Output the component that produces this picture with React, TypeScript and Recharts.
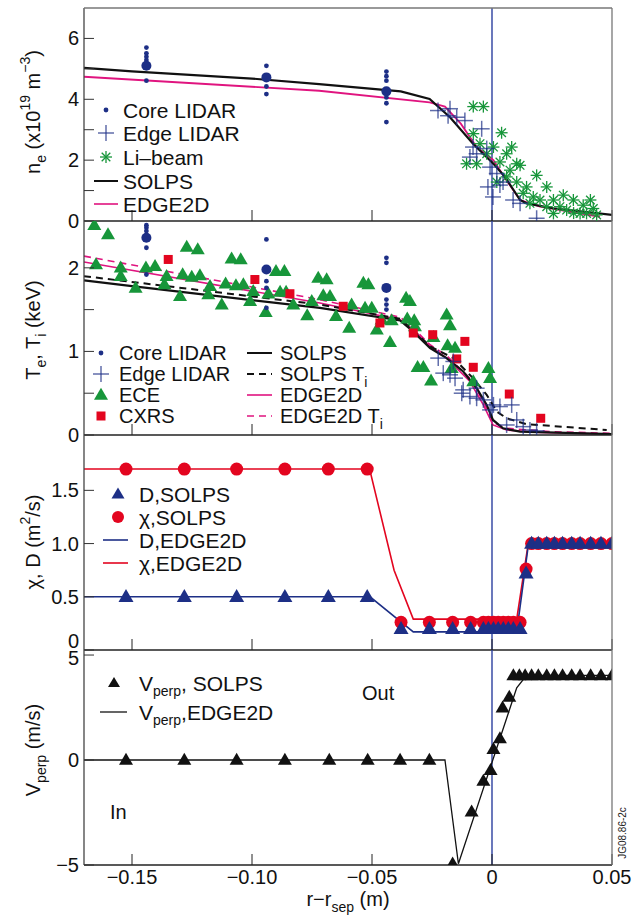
import React from 'react';
import { ComposedChart, Line, Scatter, XAxis, YAxis, ReferenceLine } from 'recharts';

type P = [number, number];

// page / plot geometry
const W = 633;
const H = 918;
const PLOT_L = 84;
const PLOT_R = 612;
const Y_AXIS_W = 40;
const X_AXIS_H = 30;
const FONT = '"Liberation Sans", Arial, Helvetica, sans-serif';

const NAVY = '#1d2f86';
const SEP_BLUE = '#2c3f9f';
const GREEN = '#17963a';
const RED = '#e3051f';
const PINK = '#e0147f';
const BLACK = '#111111';

const X_DOMAIN = [-0.17, 0.05];
const X_TICKS = [-0.15, -0.1, -0.05, 0, 0.05];

// ---- panel 1: density ----
const NE_SOLPS: P[] = [[-0.17, 5.03], [-0.15, 4.92], [-0.1, 4.68], [-0.072, 4.5], [-0.038, 4.26], [-0.026, 4.01], [-0.0175, 3.41], [-0.0079, 2.54], [0.0006, 1.88], [0.0054, 1.45], [0.0117, 0.69], [0.0144, 0.58], [0.0254, 0.42], [0.05, 0.2]];
const NE_EDGE2D: P[] = [[-0.17, 4.74], [-0.072, 4.28], [-0.026, 3.9], [-0.0196, 3.76], [-0.013, 3.2], [-0.0064, 2.43], [0.0006, 2.0], [0.006, 1.34], [0.0117, 0.69], [0.02, 0.47], [0.045, 0.14]];
const NE_CORE_LIDAR: P[] = [[-0.144, 5.7], [-0.144, 5.51], [-0.144, 5.4], [-0.144, 5.29], [-0.144, 4.61], [-0.094, 5.1], [-0.094, 4.42], [-0.094, 4.17], [-0.044, 4.91], [-0.044, 4.76], [-0.044, 4.61], [-0.044, 4.06], [-0.044, 3.87], [-0.044, 3.25]];
const NE_CORE_MEAN: P[] = [[-0.144, 5.1], [-0.094, 4.72], [-0.044, 4.26]];
const NE_EDGE_LIDAR: P[] = [[-0.0225, 3.63], [-0.0183, 3.46], [-0.0175, 3.69], [-0.0147, 3.41], [-0.0113, 3.3], [-0.0092, 2.1], [-0.0079, 2.43], [-0.0064, 2.21], [-0.0043, 3.03], [-0.0022, 2.38], [-0.0017, 1.12], [-0.0008, 1.77], [0.0004, 0.79], [0.002, 1.56], [0.0033, 1.18], [0.0046, 1.28], [0.0088, 0.69], [0.0117, 0.58], [0.0186, 0.09]];
const NE_LI_BEAM: P[] = [[-0.0078, 3.76], [-0.0036, 3.76], [0.004, 2.9], [0.0082, 2.43], [0.0061, 2.21], [-0.0078, 2.87], [-0.0106, 1.88], [-0.0064, 1.88], [-0.005, 2.54], [-0.0022, 2.21], [0.0033, 1.94], [0.0117, 1.83], [0.0075, 1.67], [0.0186, 1.5], [0.0228, 1.12], [0.0144, 1.12], [0.0103, 1.28], [0.0172, 0.79], [0.0256, 0.69], [0.0297, 0.85], [0.0339, 0.69], [0.0283, 0.47], [0.038, 0.52], [0.0422, 0.41], [0.0436, 0.2], [0.0367, 0.25], [0.0228, 0.47], [0.02, 0.69], [0.013, 0.91], [0.0061, 1.45], [0.002, 1.28], [0.0006, 2.43], [0.0103, 1.88], [0.0394, 0.25], [0.0311, 0.36], [0.0256, 0.25], [0.0158, 0.58], [0.034, 0.26], [0.041, 0.69]];

// ---- panel 2: temperatures ----
const TE_SOLPS: P[] = [[-0.17, 1.85], [-0.15, 1.78], [-0.0717, 1.52], [-0.0383, 1.37], [-0.0329, 1.24], [-0.0258, 1.04], [-0.0189, 0.92], [-0.012, 0.76], [-0.0064, 0.56], [-0.0022, 0.36], [0.0004, 0.18], [0.0046, 0.08], [0.0117, 0.04], [0.05, 0.01]];
const TI_SOLPS: P[] = [[-0.17, 1.9], [-0.0717, 1.56], [-0.0383, 1.39], [-0.0329, 1.26], [-0.0258, 1.06], [-0.0161, 0.92], [-0.0079, 0.68], [-0.0022, 0.48], [0.002, 0.28], [0.0061, 0.2], [0.0144, 0.13], [0.0478, 0.06]];
const TE_EDGE2D: P[] = [[-0.17, 2.07], [-0.0717, 1.58], [-0.0383, 1.38], [-0.0329, 1.26], [-0.0258, 1.06], [-0.0189, 0.92], [-0.0092, 0.64], [-0.0036, 0.36], [0.0004, 0.12], [0.0061, 0.06], [0.02, 0.03], [0.05, 0.01]];
const TI_EDGE2D: P[] = [[-0.17, 2.14], [-0.0717, 1.62], [-0.0383, 1.41], [-0.0329, 1.28], [-0.0258, 1.08], [-0.0189, 0.95], [-0.0092, 0.68], [-0.0036, 0.4], [0.0004, 0.15], [0.0061, 0.08], [0.025, 0.04], [0.05, 0.02]];
const TE_CORE_LIDAR: P[] = [[-0.144, 2.51], [-0.144, 2.48], [-0.144, 2.44], [-0.144, 2.24], [-0.144, 1.92], [-0.094, 2.34], [-0.094, 1.84], [-0.094, 1.76], [-0.094, 1.52], [-0.044, 2.12], [-0.044, 2.06], [-0.044, 1.62], [-0.044, 1.56], [-0.044, 1.5]];
const TE_CORE_MEAN: P[] = [[-0.144, 2.36], [-0.094, 1.98], [-0.044, 1.76]];
const TE_EDGE_LIDAR: P[] = [[-0.0224, 0.92], [-0.0203, 0.74], [-0.0175, 0.72], [-0.0161, 0.88], [-0.0154, 0.68], [-0.0126, 0.5], [-0.012, 0.54], [-0.0092, 0.46], [-0.0064, 0.56], [-0.0064, 0.44], [-0.0036, 0.42], [-0.0008, 0.3], [0.0006, 0.36], [0.0033, 0.34], [0.0061, 0.12], [0.0082, 0.36], [0.0103, 0.18], [0.013, 0.1], [0.0158, 0.06], [0.0186, 0.05]];
const TE_ECE: P[] = [[-0.1657, 2.51], [-0.16, 2.4], [-0.165, 2.04], [-0.1547, 1.9], [-0.1547, 2.0], [-0.1442, 2.0], [-0.1404, 2.02], [-0.1485, 1.76], [-0.1365, 1.8], [-0.1356, 1.9], [-0.13, 1.66], [-0.1289, 1.92], [-0.1272, 2.25], [-0.1226, 2.22], [-0.1251, 1.89], [-0.1217, 1.91], [-0.1182, 1.68], [-0.1175, 1.78], [-0.1126, 1.56], [-0.111, 1.81], [-0.1085, 2.11], [-0.1047, 2.1], [-0.1067, 1.79], [-0.1036, 1.8], [-0.1008, 1.6], [-0.0995, 1.72], [-0.0943, 1.47], [-0.0932, 1.69], [-0.09, 1.96], [-0.0865, 1.96], [-0.0883, 1.71], [-0.0858, 1.71], [-0.0828, 1.56], [-0.077, 1.43], [-0.0751, 1.6], [-0.0724, 1.88], [-0.0689, 1.86], [-0.0703, 1.67], [-0.0675, 1.66], [-0.065, 1.42], [-0.0585, 1.56], [-0.0529, 1.52], [-0.0501, 1.52], [-0.0595, 1.28], [-0.0536, 1.82], [-0.0515, 1.8], [-0.048, 1.26], [-0.046, 1.38], [-0.0418, 1.37], [-0.0425, 1.11], [-0.0358, 1.64], [-0.0342, 1.6], [-0.0353, 1.39], [-0.0324, 1.37], [-0.0321, 1.3], [-0.0189, 1.44], [-0.0175, 1.31], [-0.0244, 1.17], [-0.0185, 1.07], [-0.0154, 1.04], [-0.031, 0.81], [-0.0286, 0.81], [-0.0254, 0.65], [-0.0168, 0.8], [-0.0078, 0.64], [-0.0015, 0.8], [-0.0008, 0.68]];
const TI_CXRS: P[] = [[-0.1349, 2.1], [-0.0988, 1.86], [-0.0842, 1.69], [-0.062, 1.54], [-0.0467, 1.34], [-0.0328, 1.22], [-0.0247, 1.2], [-0.0147, 0.91], [-0.0113, 1.12], [-0.0078, 0.81], [0.0072, 0.49], [0.0203, 0.2]];

// ---- panel 3: transport coefficients ----
const CHI_SOLPS: P[] = [[-0.1525, 1.7], [-0.1282, 1.7], [-0.1064, 1.7], [-0.0863, 1.7], [-0.0682, 1.7], [-0.052, 1.7], [-0.0379, 0.26], [-0.0261, 0.26], [-0.0164, 0.26], [-0.0089, 0.26], [-0.0036, 0.26], [-0.0015, 0.26], [0.0006, 0.26], [0.0026, 0.26], [0.0047, 0.26], [0.0068, 0.26], [0.0089, 0.26], [0.0117, 0.26], [0.0142, 0.76], [0.0165, 1], [0.0193, 1], [0.0228, 1], [0.026, 1], [0.0294, 1], [0.0332, 1], [0.0367, 1], [0.0411, 1], [0.0454, 1], [0.05, 1]];
const D_SOLPS: P[] = [[-0.1525, 0.5], [-0.1282, 0.5], [-0.1064, 0.5], [-0.0863, 0.5], [-0.0682, 0.5], [-0.052, 0.5], [-0.0379, 0.2], [-0.0261, 0.2], [-0.0164, 0.2], [-0.0089, 0.2], [-0.0036, 0.2], [-0.0015, 0.2], [0.0006, 0.2], [0.0026, 0.2], [0.0047, 0.2], [0.0068, 0.2], [0.0089, 0.2], [0.0117, 0.2], [0.0142, 0.72], [0.0165, 1], [0.0193, 1], [0.0228, 1], [0.026, 1], [0.0294, 1], [0.0332, 1], [0.0367, 1], [0.0411, 1], [0.0454, 1], [0.05, 1]];
const CHI_EDGE2D: P[] = [[-0.17, 1.7], [-0.051, 1.7], [-0.0408, 0.75], [-0.0328, 0.29], [0.0103, 0.29], [0.0151, 1.0], [0.05, 1.0]];
const D_EDGE2D: P[] = [[-0.17, 0.5], [-0.0508, 0.5], [-0.0328, 0.17], [0.0103, 0.17], [0.0151, 0.98], [0.05, 0.98]];

// ---- panel 4: pinch velocity ----
const V_SOLPS: P[] = [[-0.1525, 0], [-0.1282, 0], [-0.1064, 0], [-0.0863, 0], [-0.0678, 0], [-0.0518, 0], [-0.0383, 0], [-0.0261, 0], [-0.0164, -4.94], [-0.0085, -2.46], [-0.0036, -1.0], [-0.0006, -0.49], [0.0006, 0.51], [0.0033, 1.03], [0.0044, 2.49], [0.0072, 3.0], [0.0089, 4.03], [0.0114, 4.03], [0.0138, 4.03], [0.0165, 4.03], [0.0193, 4.03], [0.0228, 4.03], [0.026, 4.03], [0.0294, 4.03], [0.0332, 4.03], [0.0367, 4.03], [0.0411, 4.03], [0.0454, 4.03], [0.05, 4.03]];
const V_EDGE2D: P[] = [[-0.17, 0], [-0.0196, 0], [-0.014, -4.94], [0.0103, 3.44], [0.0144, 4.03], [0.05, 4.03]];

const pts = (a: P[]) => a.map(([x, y]) => ({ x, y }));
const minus = (v: string) => v.replace('-', '\u2212');

// ---- marker shapes ----
const dot = (r: number, color: string) => (p: any) => <circle cx={p.cx} cy={p.cy} r={r} fill={color} />;
const cross = (p: any) => (
  <g stroke={NAVY} strokeWidth={1.5} strokeOpacity={0.7}>
    <line x1={p.cx - 8} x2={p.cx + 8} y1={p.cy} y2={p.cy} />
    <line x1={p.cx} x2={p.cx} y1={p.cy - 8} y2={p.cy + 8} />
  </g>
);
const star = (p: any) => (
  <g stroke={GREEN} strokeWidth={1.3}>
    <line x1={p.cx - 6} x2={p.cx + 6} y1={p.cy} y2={p.cy} />
    <line x1={p.cx} x2={p.cx} y1={p.cy - 6} y2={p.cy + 6} />
    <line x1={p.cx - 4.3} x2={p.cx + 4.3} y1={p.cy - 4.3} y2={p.cy + 4.3} />
    <line x1={p.cx - 4.3} x2={p.cx + 4.3} y1={p.cy + 4.3} y2={p.cy - 4.3} />
  </g>
);
const tri = (w: number, h: number, color: string) => (p: any) => (
  <polygon
    points={`${p.cx},${p.cy - h * 0.6} ${p.cx - w / 2},${p.cy + h * 0.4} ${p.cx + w / 2},${p.cy + h * 0.4}`}
    fill={color}
  />
);
const square = (s: number, color: string) => (p: any) => <rect x={p.cx - s / 2} y={p.cy - s / 2} width={s} height={s} fill={color} />;

const ece = tri(14, 12, GREEN);
const dTri = tri(15, 13, NAVY);
const vTri = tri(14, 12, BLACK);
const cxrs = square(9, RED);
const chiDot = dot(6.5, RED);

// labelDy lets a tick label sit a little off its tick where two panels meet
function Panel({ top, bottom, yDomain, yTicks, yLabel, labelDy, showX, children }: any) {
  const yTick = (p: any) => {
    const v = p.payload.value;
    const txt = yLabel(v);
    const dy = labelDy ? labelDy(v) : 0;
    return (
      <g>
        <line x1={p.x} x2={p.x + 10} y1={p.y} y2={p.y} stroke="#333" />
        {txt !== '' && (
          <text x={p.x - 5} y={p.y + dy} textAnchor="end" dominantBaseline="central"
            fontSize={20} fontFamily={FONT} fill="#111">{txt}</text>
        )}
      </g>
    );
  };
  const xTick = (p: any) => {
    const v = p.payload.value;
    return (
      <g>
        <line x1={p.x} x2={p.x} y1={p.y} y2={p.y - 11} stroke="#222" />
        {showX && (
          <text x={p.x} y={p.y + 12} textAnchor="middle" dominantBaseline="central" fontSize={20} fontFamily={FONT} fill="#111">
            {v === 0 ? '0' : minus(v.toFixed(2))}
          </text>
        )}
      </g>
    );
  };
  return (
    <div style={{ position: 'absolute', left: 0, top: 0 }}>
      <ComposedChart width={W} height={H}
        margin={{ top, bottom: H - bottom - X_AXIS_H, left: PLOT_L - Y_AXIS_W, right: W - PLOT_R }}>
        <XAxis type="number" dataKey="x" domain={X_DOMAIN} ticks={X_TICKS} interval={0} allowDataOverflow
          height={X_AXIS_H} tickSize={0} tickMargin={0} tickLine={false} axisLine={{ stroke: '#222', strokeWidth: 1.3 }} tick={xTick} />
        <YAxis type="number" dataKey="y" domain={yDomain} ticks={yTicks} interval={0} allowDataOverflow
          width={Y_AXIS_W} tickSize={0} tickMargin={0} tickLine={false} axisLine={{ stroke: '#444', strokeWidth: 1.3 }} tick={yTick} />
        <ReferenceLine x={0} stroke={SEP_BLUE} strokeWidth={1.4} />
        {children}
      </ComposedChart>
    </div>
  );
}

const LegendText = ({ x, y, size, children }: any) => (
  <text x={x} y={y} dominantBaseline="central" fontSize={size || 21} fontFamily={FONT} fill="#111">{children}</text>
);
const LegendLine = ({ x1, x2, y, color, dash, w }: any) => (
  <line x1={x1} x2={x2} y1={y} y2={y} stroke={color} strokeWidth={w || 1.6} strokeDasharray={dash} />
);
const sub = (s: string) => <tspan baselineShift="sub" fontSize={14}>{s}</tspan>;
const sup = (s: string) => <tspan baselineShift="super" fontSize={14}>{s}</tspan>;

export default function App() {
  return (
    <div style={{ position: 'absolute', left: 0, top: 0, width: W, height: H, background: '#fff', fontFamily: FONT }}>
      <Panel top={8} bottom={221} yDomain={[0, 7]} yTicks={[0, 1, 2, 3, 4, 5, 6]}
        yLabel={(v: number) => (v % 2 === 0 ? String(v) : '')}>
        <Scatter data={pts(NE_LI_BEAM)} shape={star} isAnimationActive={false} />
        <Scatter data={pts(NE_EDGE_LIDAR)} shape={cross} isAnimationActive={false} />
        <Scatter data={pts(NE_CORE_LIDAR)} shape={dot(2.4, NAVY)} isAnimationActive={false} />
        <Scatter data={pts(NE_CORE_MEAN)} shape={dot(5, NAVY)} isAnimationActive={false} />
        <Line data={pts(NE_EDGE2D)} dataKey="y" type="linear" stroke={PINK} strokeWidth={1.8} dot={false} isAnimationActive={false} />
        <Line data={pts(NE_SOLPS)} dataKey="y" type="linear" stroke={BLACK} strokeWidth={2.2} dot={false} isAnimationActive={false} />
      </Panel>

      <Panel top={221} bottom={435} yDomain={[0, 2.56]} yTicks={[0, 0.5, 1, 1.5, 2]}
        yLabel={(v: number) => (Number.isInteger(v) ? String(v) : '')}>
        <Scatter data={pts(TE_ECE)} shape={ece} isAnimationActive={false} />
        <Scatter data={pts(TI_CXRS)} shape={cxrs} isAnimationActive={false} />
        <Scatter data={pts(TE_EDGE_LIDAR)} shape={cross} isAnimationActive={false} />
        <Scatter data={pts(TE_CORE_LIDAR)} shape={dot(2.4, NAVY)} isAnimationActive={false} />
        <Scatter data={pts(TE_CORE_MEAN)} shape={dot(5, NAVY)} isAnimationActive={false} />
        <Line data={pts(TI_EDGE2D)} dataKey="y" stroke={PINK} strokeWidth={1.6} strokeDasharray="7 5" dot={false} isAnimationActive={false} />
        <Line data={pts(TE_EDGE2D)} dataKey="y" stroke={PINK} strokeWidth={1.6} dot={false} isAnimationActive={false} />
        <Line data={pts(TI_SOLPS)} dataKey="y" stroke={BLACK} strokeWidth={2} strokeDasharray="7 5" dot={false} isAnimationActive={false} />
        <Line data={pts(TE_SOLPS)} dataKey="y" stroke={BLACK} strokeWidth={2.2} dot={false} isAnimationActive={false} />
      </Panel>

      <Panel top={435} bottom={650} yDomain={[0, 2.02]} yTicks={[0, 0.5, 1, 1.5]}
        labelDy={(v: number) => (v === 0 ? -9 : 0)}
        yLabel={(v: number) => (v === 0 ? '0' : v.toFixed(1))}>
        <Line data={pts(CHI_EDGE2D)} dataKey="y" stroke={RED} strokeWidth={1.6} dot={false} isAnimationActive={false} />
        <Line data={pts(D_EDGE2D)} dataKey="y" stroke={NAVY} strokeWidth={1.6} dot={false} isAnimationActive={false} />
        <Scatter data={pts(CHI_SOLPS)} shape={chiDot} isAnimationActive={false} />
        <Scatter data={pts(D_SOLPS)} shape={dTri} isAnimationActive={false} />
      </Panel>

      <Panel top={650} bottom={865} yDomain={[-5, 5.24]} yTicks={[-5, 0, 5]} showX
        labelDy={(v: number) => (v === 5 ? 3 : 0)}
        yLabel={(v: number) => minus(String(v))}>
        <Line data={pts(V_EDGE2D)} dataKey="y" stroke={BLACK} strokeWidth={1.3} dot={false} isAnimationActive={false} />
        <Scatter data={pts(V_SOLPS)} shape={vTri} isAnimationActive={false} />
      </Panel>

      <svg width={W} height={H} style={{ position: 'absolute', left: 0, top: 0, pointerEvents: 'none' }}>
        {/* top and right frame */}
        <line x1={PLOT_L} x2={PLOT_R} y1={8} y2={8} stroke="#777" strokeWidth={1.3} />
        <line x1={PLOT_R} x2={PLOT_R} y1={8} y2={865} stroke="#777" strokeWidth={1.3} />

        {/* axis titles */}
        <g fontFamily={FONT} fontSize={20} fill="#111">
          <text transform="rotate(-90 33 112)" x={33} y={112} textAnchor="middle" dominantBaseline="central">
            n{sub('e')} (x10{sup('19')} m{sup('\u22123')})
          </text>
          <text transform="rotate(-90 33 330)" x={33} y={330} textAnchor="middle" dominantBaseline="central">
            T{sub('e')}, T{sub('i')} (keV)
          </text>
          <text transform="rotate(-90 33 542)" x={33} y={542} textAnchor="middle" dominantBaseline="central">
            χ, D (m{sup('2')}/s)
          </text>
          <text transform="rotate(-90 33 750)" x={33} y={750} textAnchor="middle" dominantBaseline="central">
            V{sub('perp')} (m/s)
          </text>
          <text x={348} y={899} textAnchor="middle" dominantBaseline="central">
            r−r{sub('sep')} (m)
          </text>
          <text x={110} y={812} dominantBaseline="central">In</text>
          <text x={362} y={693} dominantBaseline="central">Out</text>
        </g>
        <text transform="rotate(-90 622 833)" x={622} y={833} textAnchor="middle" dominantBaseline="central"
          fontFamily={FONT} fontSize={10} fill="#222">JG08.86-2c</text>

        {/* legend, panel 1 */}
        {dot(2.4, NAVY)({ cx: 106, cy: 110 })}
        <LegendText x={123} y={110}>Core LIDAR</LegendText>
        {cross({ cx: 106, cy: 133 })}
        <LegendText x={123} y={133}>Edge LIDAR</LegendText>
        {star({ cx: 106, cy: 157 })}
        <LegendText x={123} y={157}>Li–beam</LegendText>
        <LegendLine x1={94} x2={118} y={181} color={BLACK} w={2} />
        <LegendText x={123} y={181}>SOLPS</LegendText>
        <LegendLine x1={94} x2={118} y={204} color={PINK} />
        <LegendText x={123} y={204}>EDGE2D</LegendText>

        {/* legend, panel 2 */}
        {dot(2.4, NAVY)({ cx: 101, cy: 353 })}
        <LegendText x={119} y={353} size={20}>Core LIDAR</LegendText>
        {cross({ cx: 101, cy: 374 })}
        <LegendText x={119} y={374} size={20}>Edge LIDAR</LegendText>
        {ece({ cx: 101, cy: 395 })}
        <LegendText x={119} y={395} size={20}>ECE</LegendText>
        {cxrs({ cx: 101, cy: 416 })}
        <LegendText x={119} y={416} size={20}>CXRS</LegendText>
        <LegendLine x1={247} x2={272} y={353} color={BLACK} w={2} />
        <LegendText x={280} y={353} size={20}>SOLPS</LegendText>
        <LegendLine x1={247} x2={272} y={374} color={BLACK} w={2} dash="7 5" />
        <LegendText x={280} y={374} size={20}>SOLPS T{sub('i')}</LegendText>
        <LegendLine x1={247} x2={272} y={395} color={PINK} />
        <LegendText x={280} y={395} size={20}>EDGE2D</LegendText>
        <LegendLine x1={247} x2={272} y={416} color={PINK} dash="7 5" />
        <LegendText x={280} y={416} size={20}>EDGE2D T{sub('i')}</LegendText>

        {/* legend, panel 3 */}
        {tri(13, 11, NAVY)({ cx: 118, cy: 494 })}
        <LegendText x={139} y={494}>D,SOLPS</LegendText>
        {dot(6, RED)({ cx: 118, cy: 517 })}
        <LegendText x={139} y={517}>χ,SOLPS</LegendText>
        <LegendLine x1={103} x2={128} y={540} color={NAVY} />
        <LegendText x={139} y={540}>D,EDGE2D</LegendText>
        <LegendLine x1={103} x2={128} y={563} color={RED} />
        <LegendText x={139} y={563}>χ,EDGE2D</LegendText>

        {/* legend, panel 4 */}
        {tri(12, 10, BLACK)({ cx: 114, cy: 683 })}
        <LegendText x={139} y={683}>V{sub('perp')}, SOLPS</LegendText>
        <LegendLine x1={100} x2={127} y={712} color={BLACK} w={1.3} />
        <LegendText x={139} y={712}>V{sub('perp')},EDGE2D</LegendText>
      </svg>
    </div>
  );
}
